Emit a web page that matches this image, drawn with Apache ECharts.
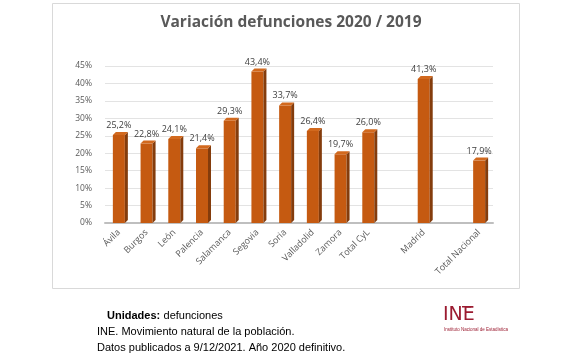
<!DOCTYPE html>
<html><head><meta charset="utf-8">
<script src="https://cdn.jsdelivr.net/npm/echarts@6/dist/echarts.min.js"></script>
<style>html,body{margin:0;padding:0;background:#fff}#c{width:579px;height:360px}</style>
</head><body><div id="c"></div>
<script>
const categories = ['Ávila','Burgos','León','Palencia','Salamanca','Segovia','Soria','Valladolid','Zamora','Total CyL','','Madrid','','Total Nacional'];
const values = [25.2,22.8,24.1,21.4,29.3,43.4,33.7,26.4,19.7,26.0,null,41.3,null,17.9];
const yTicks = [0,5,10,15,20,25,30,35,40,45];
const titleText = 'Variación defunciones 2020 / 2019';
const footerLines = ['INE. Movimiento natural de la población.','Datos publicados a 9/12/2021. Año 2020 definitivo.'];

const chart = echarts.init(document.getElementById('c'), null, {renderer:'canvas'});
const FONT = 'Open Sans';
function fmt(v){return v.toFixed(1).replace('.', ',') + '%';}

function render3d(params, api){
  const v = api.value(1);
  if (v == null || isNaN(v)) return;
  const top = api.coord([api.value(0), v]);
  const base = api.coord([api.value(0), 0]);
  const w = 12, d = 3;
  const x0 = top[0] - w/2, x1 = x0 + w;
  return {type:'group', children:[
    {type:'polygon', shape:{points:[[x1,top[1]],[x1+d,top[1]-d],[x1+d,base[1]-d],[x1,base[1]]]}, style:{fill:'#843C0C'}},
    {type:'polygon', shape:{points:[[x0,top[1]],[x0+d,top[1]-d],[x1+d,top[1]-d],[x1,top[1]]]}, style:{fill:'#D2691E'}}
  ]};
}

chart.setOption({
  animation:false,
  backgroundColor:'#fff',
  title:{text:titleText, left:286, top:10, textAlign:'center',
    textStyle:{fontFamily:FONT, fontSize:15.5, fontWeight:'bold', color:'#595959'}},
  grid:{left:105, right:86, top:66, bottom:137},
  xAxis:{type:'category', data:categories,
    axisTick:{show:false},
    axisLine:{lineStyle:{color:'#bfbfbf', width:2}},
    axisLabel:{interval:0, rotate:45, fontFamily:FONT, fontSize:9, color:'#595959', margin:8}},
  yAxis:{type:'value', min:yTicks[0], max:yTicks[yTicks.length-1], interval:5,
    axisLabel:{formatter:'{value}%', fontFamily:FONT, fontSize:8.5, color:'#595959', margin:13},
    splitLine:{lineStyle:{color:'#e3e3e3'}},
    axisLine:{show:false}, axisTick:{show:false}},
  series:[
    {type:'bar', data:values, barWidth:12, itemStyle:{color:'#C55A11'},
      label:{show:true, position:'top', distance:5, formatter:p=>fmt(p.value),
        fontFamily:FONT, fontSize:9, color:'#404040'}},
    {type:'custom', renderItem:render3d, data:values.map((v,i)=>[i,v]), z:3}
  ],
  graphic:[
    {type:'rect', shape:{x:52.5, y:3.5, width:467, height:285}, style:{fill:'none', stroke:'#d9d9d9', lineWidth:1}, z:-10},
    {type:'text', left:107, top:310, style:{rich:{b:{fontWeight:'bold',fontFamily:'Liberation Sans',fontSize:11,fill:'#000'}, n:{fontFamily:'Liberation Sans',fontSize:11,fill:'#000'}}, text:'{b|Unidades:} {n|defunciones}'}},
    {type:'text', left:97, top:326, style:{text:footerLines[0], fontFamily:'Liberation Sans', fontSize:11, fill:'#000'}},
    {type:'text', left:97, top:342, style:{text:footerLines[1], fontFamily:'Liberation Sans', fontSize:11, fill:'#000'}},
    {type:'text', left:443, top:306, style:{text:'INE', fontFamily:'DejaVu Sans', fontSize:19, fill:'#9B1B30'}},
    {type:'rect', shape:{x:462, y:306, width:9, height:1.5}, style:{fill:'#9B1B30'}},
    {type:'text', left:444, top:327, style:{text:'Instituto Nacional de Estadística', fontFamily:'Liberation Sans', fontSize:4.5, fill:'#9B1B30'}}
  ]
});
</script></body></html>
